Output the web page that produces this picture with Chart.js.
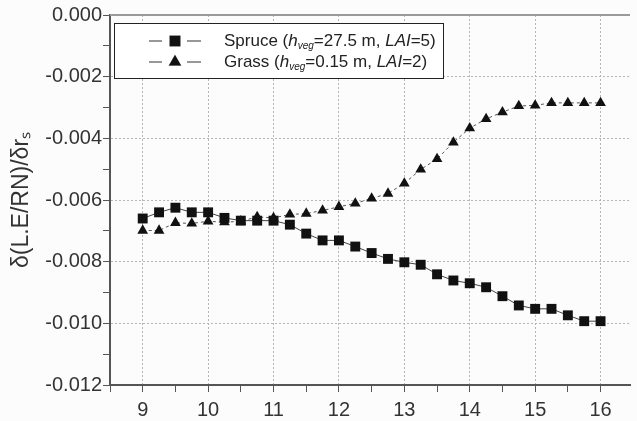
<!DOCTYPE html>
<html lang="en">
<head>
  <meta charset="UTF-8">
  <title>Spruce vs grass sensitivity</title>
  <script src="https://cdn.jsdelivr.net/npm/chart.js"></script>
  <style>
    html, body { margin: 0; padding: 0; background: #fcfcfc; }
    #wrap { width: 637px; height: 421px; }
  </style>
</head>
<body>
  <div id="wrap"><canvas id="sensChart"></canvas></div>

  <script>
    // time of day (h)
    const hours = [9, 9.25, 9.5, 9.75, 10, 10.25, 10.5, 10.75, 11, 11.25, 11.5, 11.75, 12, 12.25,
      12.5, 12.75, 13, 13.25, 13.5, 13.75, 14, 14.25, 14.5, 14.75, 15, 15.25, 15.5, 15.75, 16];

    const spruce = [-0.00660, -0.00640, -0.00625, -0.00640, -0.00640, -0.00658, -0.00667, -0.00667,
      -0.00667, -0.00680, -0.00709, -0.00731, -0.00731, -0.00751, -0.00772, -0.00791, -0.00802,
      -0.00810, -0.00841, -0.00861, -0.00870, -0.00883, -0.00912, -0.00942, -0.00953, -0.00953,
      -0.00974, -0.00993, -0.00993];

    const grass = [-0.00699, -0.00699, -0.00674, -0.00676, -0.00669, -0.00672, -0.00669, -0.00655,
      -0.00658, -0.00647, -0.00644, -0.00634, -0.00622, -0.00611, -0.00595, -0.00579, -0.00546,
      -0.00501, -0.00467, -0.00413, -0.00367, -0.00337, -0.00315, -0.00295, -0.00293, -0.00285,
      -0.00285, -0.00285, -0.00285];

    const yTickLabels = ['0.000', '-0.002', '-0.004', '-0.006', '-0.008', '-0.010', '-0.012'];
    const xTickLabels = ['9', '10', '11', '12', '13', '14', '15', '16'];

    const FONT = "'Liberation Sans', Arial, Helvetica, sans-serif";

    // legend text pieces: [text, italic, subscript]
    const legendRows = [
      { name: 'spruce', parts: [['Spruce (', 0, 0], ['h', 1, 0], ['veg', 1, 1], ['=27.5 m, ', 0, 0], ['LAI', 1, 0], ['=5)', 0, 0]] },
      { name: 'grass', parts: [['Grass (', 0, 0], ['h', 1, 0], ['veg', 1, 1], ['=0.15 m, ', 0, 0], ['LAI', 1, 0], ['=2)', 0, 0]] }
    ];

    const framePlugin = {
      id: 'frame',
      afterDraw(chart) {
        const ctx = chart.ctx;
        const a = chart.chartArea;
        ctx.save();
        // top frame line
        ctx.strokeStyle = '#9a9a9a';
        ctx.lineWidth = 2;
        ctx.beginPath();
        ctx.moveTo(a.left, a.top);
        ctx.lineTo(a.right, a.top);
        ctx.stroke();

        // legend box
        const bx = a.left + 4, by = a.top + 8, bw = 329, bh = 55;
        ctx.fillStyle = '#ffffff';
        ctx.fillRect(bx, by, bw, bh);
        ctx.strokeStyle = '#222';
        ctx.lineWidth = 1;
        ctx.strokeRect(bx + 0.5, by + 0.5, bw, bh);

        legendRows.forEach((row, i) => {
          const ds = chart.data.datasets[i];
          const cy = by + 18 + i * 21;
          ctx.strokeStyle = '#333';
          ctx.lineWidth = 1.2;
          ctx.setLineDash([]);
          ctx.beginPath();
          ctx.moveTo(bx + 35, cy); ctx.lineTo(bx + 48, cy);
          ctx.moveTo(bx + 73, cy); ctx.lineTo(bx + 87, cy);
          ctx.stroke();
          ctx.fillStyle = '#111';
          Chart.helpers.drawPoint(ctx, {
            pointStyle: ds.pointStyle, radius: ds.pointRadius, borderWidth: 1
          }, bx + 61, cy);
          ctx.fill();

          let x = bx + 110;
          ctx.fillStyle = '#222';
          ctx.textBaseline = 'middle';
          row.parts.forEach(p => {
            const size = p[2] ? 10 : 17;
            ctx.font = (p[1] ? 'italic ' : '') + size + 'px ' + FONT;
            ctx.fillText(p[0], x, p[2] ? cy + 5 : cy);
            x += ctx.measureText(p[0]).width;
          });
        });
        ctx.restore();
      }
    };

    const ctx = document.getElementById('sensChart').getContext('2d');
    const sensChart = new Chart(ctx, {
      type: 'line',
      data: {
        datasets: [{
          label: 'Spruce (hveg=27.5 m, LAI=5)',
          data: hours.map((h, i) => ({ x: h, y: spruce[i] })),
          borderColor: '#444',
          borderWidth: 1,
          backgroundColor: '#111',
          pointStyle: 'rect',
          pointRadius: 7,
          pointBorderWidth: 0,
          pointBackgroundColor: '#111',
          tension: 0
        }, {
          label: 'Grass (hveg=0.15 m, LAI=2)',
          data: hours.map((h, i) => ({ x: h, y: grass[i] })),
          borderColor: '#555',
          borderWidth: 1,
          borderDash: [3, 3],
          backgroundColor: '#111',
          pointStyle: 'triangle',
          pointRadius: 6.2,
          pointBorderWidth: 0,
          pointBackgroundColor: '#111',
          tension: 0
        }]
      },
      options: {
        responsive: true,
        maintainAspectRatio: false,
        animation: false,
        layout: { padding: { top: 15, right: 0, left: 0, bottom: 0 } },
        scales: {
          x: {
            type: 'linear',
            min: 8.5,
            max: 16.45,
            afterFit: function (scale) { scale.height = 36; },
            ticks: {
              stepSize: 0.5,
              includeBounds: false,
              autoSkip: false,
              maxRotation: 0,
              padding: 6,
              color: '#333',
              font: { family: FONT, size: 20 },
              callback: function (value) {
                const s = String(value);
                return xTickLabels.includes(s) ? s : '';
              }
            },
            grid: {
              color: function (c) {
                if (!c.tick) return 'transparent';
                return xTickLabels.includes(String(c.tick.value)) ? '#b5b5b5' : 'transparent';
              },
              tickColor: '#555',
              tickLength: 7,
              lineWidth: 1
            },
            border: { color: '#555', width: 2, dash: [2, 2] }
          },
          y: {
            min: -0.012,
            max: 0,
            afterFit: function (scale) { scale.width = 110; },
            ticks: {
              stepSize: 0.001,
              autoSkip: false,
              padding: 1,
              color: '#333',
              font: { family: FONT, size: 20 },
              callback: function (value) {
                const s = (Math.round(value * 1000) / 1000).toFixed(3);
                return yTickLabels.includes(s) ? s : '';
              }
            },
            grid: {
              color: function (c) {
                if (!c.tick) return 'transparent';
                const s = (Math.round(c.tick.value * 1000) / 1000).toFixed(3);
                if (s === '0.000') return 'transparent';
                return yTickLabels.includes(s) ? '#b5b5b5' : 'transparent';
              },
              tickColor: '#555',
              tickLength: 7,
              lineWidth: 1
            },
            border: { color: '#555', width: 2, dash: [2, 2] },
            title: {
              display: true,
              text: 'δ(L.E/RN)/δrₛ',
              color: '#333',
              font: { family: FONT, size: 23 },
              padding: { top: 8, bottom: 0 }
            }
          }
        },
        plugins: {
          legend: { display: false },
          tooltip: { enabled: false }
        }
      },
      plugins: [framePlugin]
    });
  </script>
</body>
</html>
